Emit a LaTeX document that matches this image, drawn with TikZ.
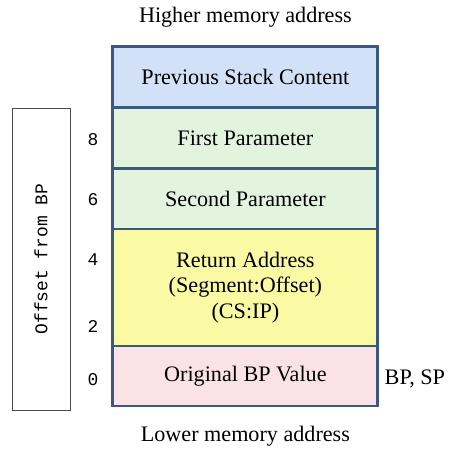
\documentclass[tikz,border=0pt]{standalone}
\usepackage{fontspec}
\setmainfont{Liberation Serif}
\setmonofont{Liberation Mono}
\usetikzlibrary{positioning}
\definecolor{stackline}{RGB}{58,88,128}
\definecolor{prevfill}{RGB}{210,225,248}
\definecolor{parmfill}{RGB}{226,244,222}
\definecolor{retfill}{RGB}{250,250,164}
\definecolor{bpfill}{RGB}{250,226,230}

\begin{document}
\begin{tikzpicture}[
		stackbox/.style={draw=stackline,line width=2.8pt,minimum width=8.83cm,inner sep=0pt,align=center,font=\fontsize{21}{24}\selectfont},
		offs/.style={font=\ttfamily\fontsize{17}{20}\selectfont},
		caption/.style={font=\fontsize{21}{24}\selectfont}]
		\useasboundingbox (0,0) rectangle (15,15);
		\node[caption] (high) at (8.18,14.43) {Higher memory address};
		\node[stackbox,fill=prevfill,minimum height=2.02cm] (prev) at (8.18,12.425) {Previous Stack Content};
		\node[stackbox,fill=parmfill,minimum height=2.03cm] (firstp) at (8.18,10.4) {First Parameter};
		\node[stackbox,fill=parmfill,minimum height=2.02cm] (secondp) at (8.18,8.375) {Second Parameter};
		\node[stackbox,fill=retfill,minimum height=3.9cm] (retaddr) at (8.18,5.417) {Return Address\\(Segment:Offset)\\(CS:IP)};
		\node[stackbox,fill=bpfill,minimum height=2cm] (origbp) at (8.18,2.467) {Original BP Value};
		\node[caption] (low) at (8.18,0.47) {Lower memory address};
		\node[caption] (bpsp) at (13.83,2.37) {BP, SP};
		% offsets from BP
		\node[draw=black!70,line width=0.6pt,minimum width=1.93cm,minimum height=10.07cm] (offbox) at (1.367,6.367) {};
		\node[offs,rotate=90] (offlabel) at (offbox.center) {Offset from BP};
		\node[offs] (off8) at (3.1,10.333) {8};
		\node[offs] (off6) at (3.1,8.333) {6};
		\node[offs] (off4) at (3.1,6.333) {4};
		\node[offs] (off2) at (3.1,4.1) {2};
		\node[offs] (off0) at (3.1,2.333) {0};
	\end{tikzpicture}
\end{document}
